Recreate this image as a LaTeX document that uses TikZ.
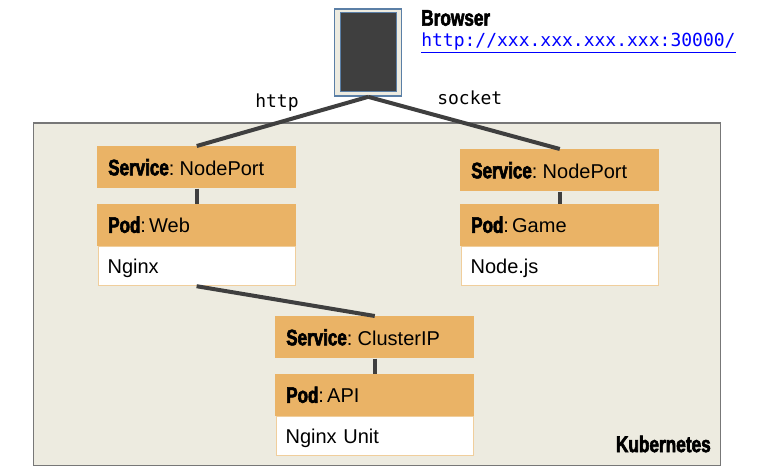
\documentclass[tikz,border=0pt]{standalone}
\usepackage{fontspec}
\setmainfont{Liberation Sans}
\setmonofont{DejaVu Sans Mono}
\newfontfamily\impactfont[FakeStretch=0.76,FakeBold=2.6]{Liberation Sans Bold}
\definecolor{kbg}{HTML}{EDEBE0}
\definecolor{kborder}{HTML}{777777}
\definecolor{orangefill}{HTML}{EAB366}
\definecolor{orangeline}{HTML}{F0CE9C}
\definecolor{darkline}{HTML}{3F3F3F}
\definecolor{browserblue}{HTML}{5B7FA6}
\tikzset{
  x=0.75pt,y=-0.75pt,
  hdr/.style={fill=orangefill,draw=none,anchor=north west,inner sep=0pt,text width=177*0.75pt,align=left,minimum width=199*0.75pt,minimum height=42*0.75pt,text height=12pt,text depth=0pt,font=\fontsize{15}{18}\selectfont},
  bodybox/.style={fill=white,draw=orangeline,line width=0.9pt,anchor=north west,inner sep=0pt,text width=178*0.75pt,align=left,minimum width=197*0.75pt,minimum height=39.5*0.75pt,text height=12pt,text depth=0pt,font=\fontsize{15}{18}\selectfont},
  link/.style={draw=darkline,line width=3pt},
  mono/.style={font=\ttfamily\fontsize{13.5}{16}\selectfont,inner sep=0pt},
  heavy/.style={font=\impactfont\fontsize{17}{18}\selectfont,inner sep=0pt}
}
\newcommand{\hv}[1]{{\impactfont\fontsize{16.8}{18}\selectfont #1}}
\begin{document}
\begin{tikzpicture}
\useasboundingbox (0,0) rectangle (759,474);
\node[draw=kborder,fill=kbg,line width=1pt,minimum width=687*0.75pt,minimum height=342*0.75pt,anchor=north west,inner sep=0pt] (k8s) at (32.5,122.5) {};
\node[draw=browserblue,fill=kbg,line width=1pt,minimum width=67*0.75pt,minimum height=87*0.75pt,anchor=north west,inner sep=0pt] (browser) at (334,8.5) {};
\node[fill=darkline,draw=browserblue,line width=0.5pt,minimum width=56*0.75pt,minimum height=79*0.75pt,anchor=north west,inner sep=0pt] (screen) at (340,12.5) {};
\node[heavy,anchor=west] (blabel) at (421,18) {Browser};
\node[mono,anchor=west,text=blue] (url) at (421,43) {\underline{http://xxx.xxx.xxx.xxx:30000/}};
\node[mono,anchor=west] (http) at (255,103) {http};
\node[mono,anchor=west] (socket) at (437,97.5) {socket};

\node[hdr] (s1) at (97,146) {\hv{Service}:\kern4pt NodePort};
\node[hdr] (p1) at (97,203.5) {\hv{Pod}:\kern2.4pt Web};
\node[bodybox] (b1) at (97.5,245.5) {Nginx};
\node[hdr] (s2) at (460,149) {\hv{Service}:\kern4pt NodePort};
\node[hdr] (p2) at (460,203.5) {\hv{Pod}:\kern2.4pt Game};
\node[hdr] (s3) at (275,316) {\hv{Service}:\kern4pt ClusterIP};
\node[hdr] (p3) at (275,373.5) {\hv{Pod}:\kern2.4pt API};
\node[bodybox] (b2) at (460.5,245.5) {Node.js};
\node[bodybox] (b3) at (275.5,415.5) {\mbox{Nginx Unit}};
\node[heavy,anchor=east] (klabel) at (711,444) {Kubernetes};

\draw[link] (browser.south) -- (s1.north);
\draw[link] (browser.south) -- (s2.north);
\draw[link] (s1.south) -- (p1.north);
\draw[link] (s2.south) -- (p2.north);
\draw[link] (b1.south) -- (s3.north);
\draw[link] (s3.south) -- (p3.north);
\end{tikzpicture}
\end{document}
